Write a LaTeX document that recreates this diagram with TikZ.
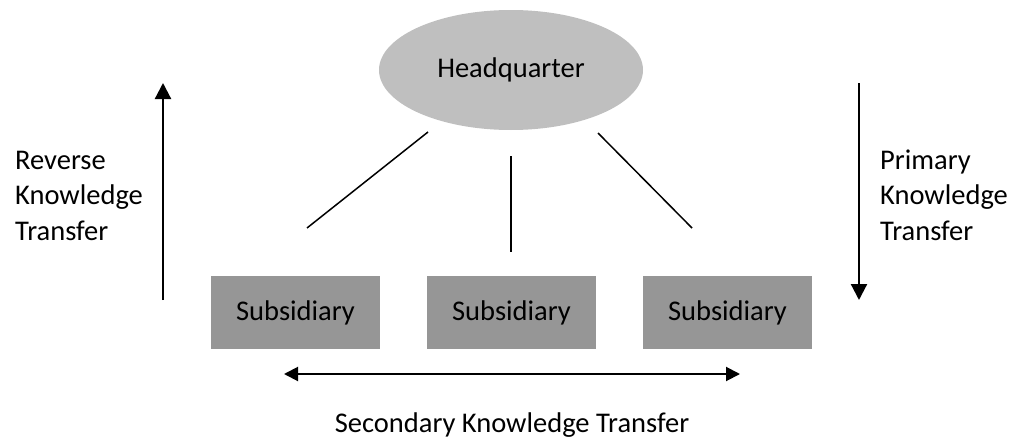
\documentclass[tikz,border=0pt]{standalone}
\usepackage{fontspec}
\setmainfont{Carlito}
\usetikzlibrary{shapes.geometric,arrows.meta}
\definecolor{hqgray}{HTML}{BFBFBF}
\definecolor{subgray}{HTML}{969696}
\begin{document}
\begin{tikzpicture}[x=1pt,y=-1pt,
  txt/.style={font=\fontsize{28.5}{35.5}\selectfont, text=black},
  hqnode/.style={ellipse, fill=hqgray, minimum width=264pt, minimum height=120pt, inner sep=0pt, txt},
  subnode/.style={rectangle, fill=subgray, minimum width=169pt, minimum height=73pt, inner sep=0pt, txt},
  link/.style={line width=1.5pt, black},
  flow/.style={line width=2.2pt, black, -{Triangle[length=16pt,width=16pt]}},
  sideflow/.style={line width=2pt, black, {Triangle[length=14pt,width=14pt]}-{Triangle[length=14pt,width=14pt]}},
  sidelabel/.style={txt, align=left, anchor=base west, inner sep=0pt}
]
\useasboundingbox (0,0) rectangle (1013,439);

% headquarter and subsidiaries
\node[hqnode] (hq) at (511,70) {Headquarter};
\node[subnode] (s1) at (295.5,312.5) {Subsidiary};
\node[subnode] (s2) at (511.5,312.5) {Subsidiary};
\node[subnode] (s3) at (727.5,312.5) {Subsidiary};

% free-standing links between headquarter and subsidiaries
\coordinate (l1a) at (428,132);
\coordinate (l1b) at (307,228);
\coordinate (l2a) at (511,156);
\coordinate (l2b) at (511,252);
\coordinate (l3a) at (598,133);
\coordinate (l3b) at (692,228);
\draw[link] (l1a) -- (l1b);
\draw[link] (l2a) -- (l2b);
\draw[link] (l3a) -- (l3b);

% knowledge flow arrows
\coordinate (revlow) at (163,300);
\coordinate (revtop) at (163,83);
\coordinate (pritop) at (859,83);
\coordinate (prilow) at (859,300);
\coordinate (secl) at (284,374);
\coordinate (secr) at (740,374);
\draw[flow] (revlow) -- (revtop);
\draw[flow] (pritop) -- (prilow);
\draw[sideflow] (secl) -- (secr);

% labels (anchored on the baseline of their last line)
\node[sidelabel] (revlabel) at (15,240) {Reverse\\Knowledge\\Transfer};
\node[sidelabel] (prilabel) at (880,240) {Primary\\Knowledge\\Transfer};
\node[txt, anchor=base, inner sep=0pt] (seclabel) at (512,432) {Secondary Knowledge Transfer};
\end{tikzpicture}
\end{document}
